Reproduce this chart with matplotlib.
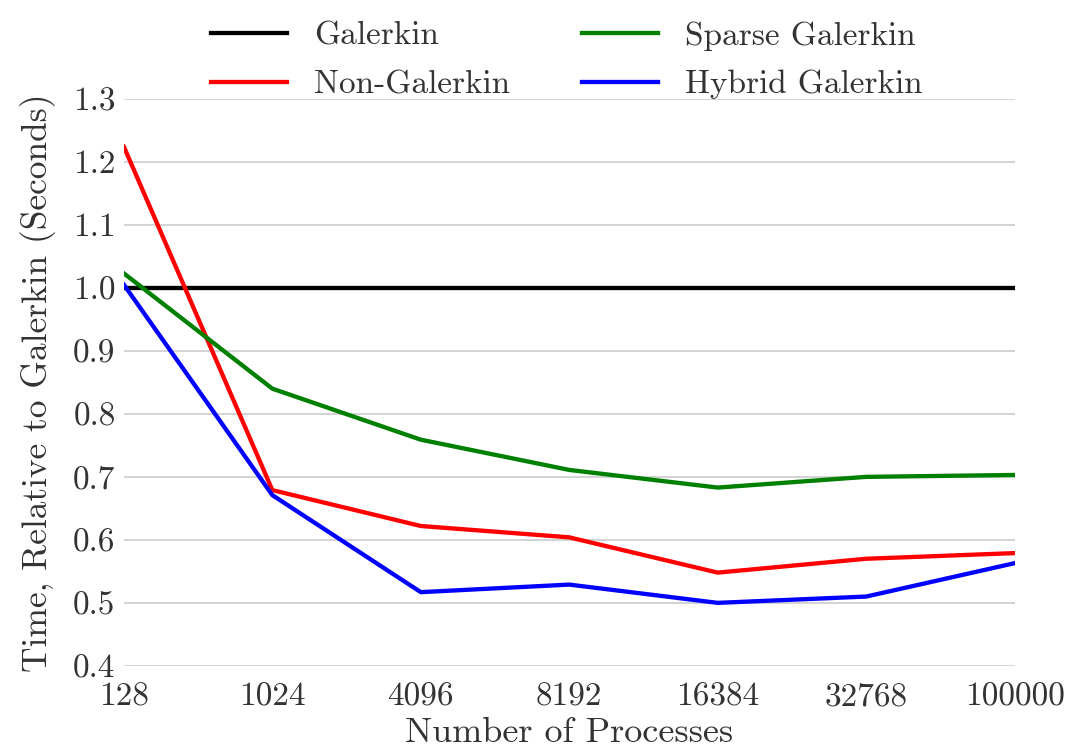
import matplotlib
matplotlib.use("Agg")
import matplotlib.pyplot as plt

categories = ["128", "1024", "4096", "8192", "16384", "32768", "100000"]
galerkin = [1.0, 1.0, 1.0, 1.0, 1.0, 1.0, 1.0]
non_galerkin = [1.224, 0.679, 0.622, 0.604, 0.548, 0.570, 0.579]
sparse_galerkin = [1.023, 0.840, 0.759, 0.711, 0.683, 0.700, 0.703]
hybrid_galerkin = [1.005, 0.671, 0.517, 0.529, 0.500, 0.510, 0.563]

plt.rcParams['font.family'] = 'cmr10'
plt.rcParams['mathtext.fontset'] = 'cm'
plt.rcParams['axes.unicode_minus'] = False
plt.rcParams['axes.formatter.use_mathtext'] = True

fig = plt.figure(figsize=(10.68, 7.49), dpi=100)
ax = fig.add_axes([0.116, 0.111, 0.834, 0.757])

x = list(range(len(categories)))
lw = 3.1
ax.plot(x, galerkin, color='black', lw=lw, label='Galerkin')
ax.plot(x, non_galerkin, color='red', lw=lw, label='Non-Galerkin')
ax.plot(x, sparse_galerkin, color='green', lw=lw, label='Sparse Galerkin')
ax.plot(x, hybrid_galerkin, color='blue', lw=lw, label='Hybrid Galerkin')

ax.set_xlim(0, len(categories) - 1)
ax.set_ylim(0.4, 1.3)
ax.set_xticks(x)
ax.set_xticklabels(categories)
ax.set_yticks([0.4, 0.5, 0.6, 0.7, 0.8, 0.9, 1.0, 1.1, 1.2, 1.3])
ax.set_yticklabels(["0.4", "0.5", "0.6", "0.7", "0.8", "0.9", "1.0", "1.1", "1.2", "1.3"])
ax.yaxis.grid(True, color='#cccccc', lw=1.2)
ax.xaxis.grid(False)
ax.set_axisbelow(True)
for s in ax.spines.values():
    s.set_visible(False)
ax.tick_params(axis='both', length=0, labelsize=24, colors='0.2')
ax.tick_params(axis='x', pad=12)
ax.tick_params(axis='y', pad=6)
ax.set_xlabel('Number of Processes', fontsize=26, color='0.2', labelpad=4)
ax.set_ylabel('Time, Relative to Galerkin (Seconds)', fontsize=25.5, color='0.2', labelpad=12)

leg = ax.legend(loc='lower center', bbox_to_anchor=(0.497, 0.946), ncol=2, frameon=False,
                fontsize=24, handlelength=2.3, columnspacing=2.15, labelspacing=0.57)
for t in leg.get_texts():
    t.set_color('0.2')

fig.savefig('out.png', dpi=100)
